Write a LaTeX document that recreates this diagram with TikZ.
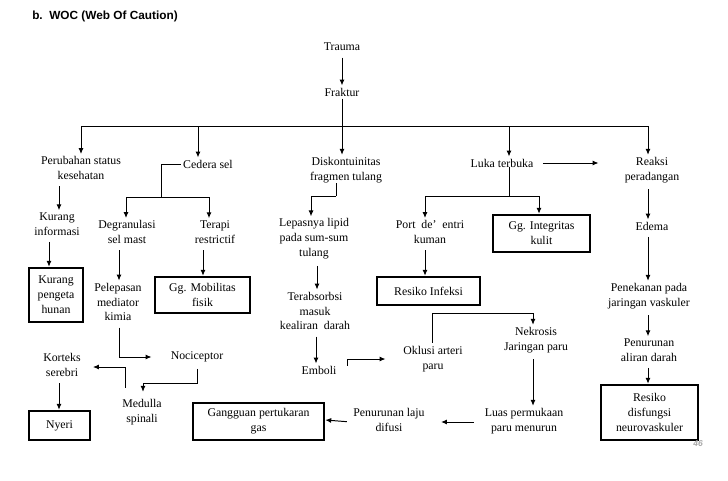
\documentclass[tikz,border=0pt]{standalone}
\usepackage{fontspec}
\setmainfont{Liberation Serif}
\newfontfamily\judulfont{Liberation Sans}
\usetikzlibrary{arrows.meta,calc,positioning}
\tikzset{>={Latex[length=4.2pt,width=3.6pt]}}
\tikzset{%
    teks/.style={align=center, inner sep=1.5pt, font=\rmfamily\fontsize{8.4}{10.6}\selectfont},%
    kotak/.style={teks, draw, line width=1.8pt, inner sep=2pt},%
    garis/.style={line width=0.7pt},%
    panah/.style={garis, ->, shorten <=3pt}%
}

\begin{document}
\begin{tikzpicture}[x=0.025cm,y=-0.025cm]
      \useasboundingbox (0,0) rectangle (728,480);
      \node[anchor=west, inner sep=0pt, font=\judulfont\bfseries\fontsize{8.4}{10}\selectfont] (judul) at (32,16) {b.\ \ WOC (Web Of Caution)};
      % pohon utama
      \node[teks] (trauma) at (342,47) {Trauma};
      \node[teks] (fraktur) at (342,92) {Fraktur};
      \coordinate (bar) at (342,126);
      \node[teks] (perubahan) at (81,168) {Perubahan status\\kesehatan};
      \node[teks] (cedera) at (208,164) {Cedera sel};
      \node[teks] (diskon) at (346,170) {Diskontuinitas\\fragmen tulang};
      \node[teks] (luka) at (502,163) {Luka terbuka};
      \node[teks] (reaksi) at (652,170) {Reaksi\\peradangan};
      \draw[panah] (trauma) -- (fraktur);
      \draw[garis] (fraktur.south) -- (bar);
      \draw[panah,shorten <=0pt] (bar) -| (perubahan.north);
      \draw[panah,shorten <=0pt] (bar) -| ($(cedera.north)+(-10,0)$);
      \draw[panah,shorten <=0pt] (bar) -- (diskon.north -| bar);
      \draw[panah,shorten <=0pt] (bar) -| ($(luka.north)+(7,0)$);
      \draw[panah,shorten <=0pt] (bar) -| ($(reaksi.north)+(-4,0)$);
      % cabang kiri
      \node[teks] (kurinfo) at (57,224) {Kurang\\informasi};
      \node[kotak, minimum width=1.35cm, minimum height=1.35cm] (kurpeng) at (56,295) {Kurang\\pengeta\\hunan};
      \draw[panah] ($(perubahan.south -| kurinfo)+(2,0)$) -- ($(kurinfo.north)+(2,0)$);
      \draw[panah] ($(kurinfo.south)+(-8,0)$) -- ($(kurpeng.north)+(-7,0)$);
      \node[teks] (degran) at (127,232) {Degranulasi\\sel mast};
      \node[teks] (terapi) at (215,232) {Terapi\\restrictif};
      \coordinate (cj) at (161,197);
      \draw[garis] (cedera.west) -| (cj);
      \draw[panah,shorten <=0pt] (cj) -| ($(degran.north)+(-1,0)$);
      \draw[panah,shorten <=0pt] (cj) -| ($(terapi.north)+(-6,0)$);
      \node[teks] (pelepas) at (118,302) {Pelepasan\\mediator\\kimia};
      \node[kotak, minimum width=2.375cm, minimum height=0.9cm] (mobil) at (202.5,295) {Gg. Mobilitas\\fisik};
      \draw[panah] ($(degran.south)+(-8,0)$) -- ($(pelepas.north)+(1,0)$);
      \draw[panah] ($(terapi.south -| mobil)+(0.5,0)$) -- ($(mobil.north)+(0.5,0)$);
      \node[teks] (nocic) at (197,357) {Nociceptor};
      \node[teks] (medulla) at (142,412) {Medulla\\spinali};
      \node[teks] (korteks) at (62,365) {Korteks\\serebri};
      \node[kotak, minimum width=1.525cm, minimum height=0.725cm] (nyeri) at (59.5,425.5) {Nyeri};
      \coordinate (mj) at (143,383);
      \coordinate (mk) at (125,367);
      \draw[panah,shorten >=12pt] ($(pelepas.south)+(1,0)$) |- (nocic.west);
      \draw[panah] (nocic.south) -- (nocic.south |- mj) -- (mj) -- ($(medulla.north -| mj)+(0,-5)$);
      \draw[panah,shorten >=7pt] ($(mk |- medulla.north)+(0,-5)$) -- (mk) -- (mk -| korteks.east);
      \draw[panah] ($(korteks.south)+(-3,0)$) -- ($(nyeri.north)+(-0.5,0)$);
      % cabang tengah
      \node[teks] (lepas) at (314,239) {Lepasnya lipid\\pada sum-sum\\tulang};
      \node[teks] (terab) at (315,311) {Terabsorbsi\\masuk\\kealiran\ \ darah};
      \node[teks] (emboli) at (319,370) {Emboli};
      \coordinate (dj) at (336,196);
      \draw[garis] ($(diskon.south -| dj)+(0,-2)$) -- (dj);
      \draw[panah,shorten <=0pt] (dj) -| ($(lepas.north)+(-3,0)$);
      \draw[panah] ($(lepas.south)+(3,0)$) -- ($(terab.north)+(2,0)$);
      \draw[panah] ($(terab.south)+(1,0)$) -- ($(emboli.north -| terab.south)+(1,0)$);
      \node[teks] (oklusi) at (433,359) {Oklusi arteri\\paru};
      \coordinate (ej) at (347,359);
      \draw[panah,shorten >=11pt] (emboli.east -| ej) -- (ej) -- (ej -| oklusi.west);
      \node[teks] (nekrosis) at (536,340) {Nekrosis\\Jaringan paru};
      \coordinate (nj) at (432,313);
      \draw[panah,shorten <=0pt] ($(oklusi.north -| nj)+(0,-1)$) -- (nj) -| ($(nekrosis.north)+(-3,0)$);
      \node[teks] (luas) at (524,421) {Luas permukaan\\paru menurun};
      \node[teks] (penlaju) at (389,420) {Penurunan laju\\difusi};
      \node[kotak, minimum width=3.275cm, minimum height=0.925cm] (gangguan) at (258.5,421.5) {Gangguan pertukaran\\gas};
      \draw[panah] ($(nekrosis.south)+(-3,0)$) -- ($(luas.north -| nekrosis.south)+(-3,0)$);
      \draw[panah,shorten <=6pt,shorten >=10pt] ($(luas.west)+(0,1)$) -- ($(penlaju.east)+(0,2)$);
      \draw[panah,shorten <=3pt] ($(penlaju.west)+(0,2)$) -- (penlaju.west -| gangguan.east);
      % cabang luka
      \node[teks] (port) at (430,232) {Port\ \ de'\ \ entri\\kuman};
      \node[kotak, minimum width=2.425cm, minimum height=0.925cm] (integ) at (541.5,233.5) {Gg. Integritas\\kulit};
      \node[kotak, minimum width=2.575cm, minimum height=0.7cm] (infeksi) at (428.5,291) {Resiko Infeksi};
      \coordinate (lj) at (509,196);
      \draw[garis] ($(luka.south -| lj)+(0,-3)$) -- (lj);
      \draw[panah,shorten <=0pt] (lj) -| ($(port.north)+(-5,0)$);
      \draw[panah,shorten <=0pt] (lj) -| ($(integ.north)+(-2.5,0)$);
      \draw[panah] ($(port.south)+(-5,0)$) -- ($(infeksi.north)+(-3.5,0)$);
      \draw[panah,shorten <=5pt,shorten >=17pt] (luka.east) -- (luka.east -| reaksi.west);
      % cabang kanan
      \node[teks] (edema) at (652,226) {Edema};
      \node[teks] (penekan) at (649,296) {Penekanan pada\\jaringan vaskuler};
      \node[teks] (penalir) at (649,350) {Penurunan\\aliran darah};
      \node[kotak, minimum width=2.425cm, minimum height=1.375cm] (disfung) at (649.5,412.5) {Resiko\\disfungsi\\neurovaskuler};
      \draw[panah] ($(reaksi.south)+(-4,0)$) -- ($(edema.north)+(-4,0)$);
      \draw[panah] ($(edema.south)+(-4,0)$) -- ($(penekan.north)+(-1,0)$);
      \draw[panah] ($(penekan.south)+(-1,0)$) -- ($(penalir.north)+(-1,0)$);
      \draw[panah] ($(penalir.south)+(-1,0)$) -- ($(disfung.north)+(-1.5,0)$);
      \node[font=\judulfont\bfseries\itshape\fontsize{6}{7}\selectfont, text=gray!70, inner sep=0pt] (hal) at (698,444) {46};
\end{tikzpicture}
\end{document}
